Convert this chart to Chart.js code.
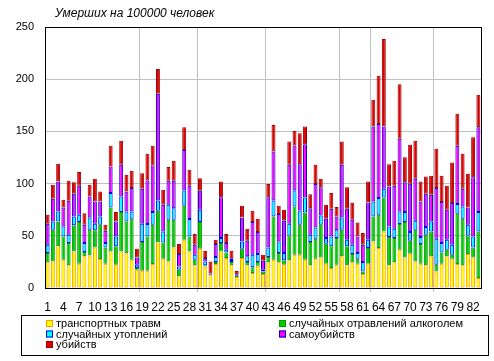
<!DOCTYPE html>
<html>
<head>
<meta charset="utf-8">
<script src="https://cdn.jsdelivr.net/npm/chart.js@4"></script>
<style>
html,body{margin:0;padding:0;background:#fff;}
canvas{display:block;}
</style>
</head>
<body>
<canvas id="c" width="494" height="361"></canvas>
<script>
const titleText = 'Умерших на 100000 человек';
const categories = ['1','2','3','4','5','6','7','8','9','10','11','12','13','14','15','16','17','18','19','20','21','22','23','24','25','26','27','28','29','30','31','32','33','34','35','36','37','38','39','40','41','42','43','44','45','46','47','48','49','50','51','52','53','54','55','56','57','58','59','60','61','62','63','64','65','66','67','68','69','70','71','72','73','74','75','76','77','78','79','80','81','82','83'];
const tickLabels = ['1','4','7','10','13','16','19','22','25','28','31','34','37','40','43','46','49','52','55','58','61','64','67','70','73','76','79','82'];
const yTicks = [0,50,100,150,200,250];
// index of first category after each vertical separator line
const separatorBefore = [18,29,42,56,62,74];

const transport = [24.6,25.5,39.9,27.1,21.7,35,23.3,30.3,31.2,38.9,27.7,23.3,35,22.3,35,33.2,27.1,17.5,16.6,16.6,23,43.7,28,25.5,38.9,11.2,46.2,35,21.7,37.6,20.7,12.1,23,35,28.7,21.7,10.5,28.7,21.7,14.3,21.4,13.4,24.6,27.1,24.6,22.3,26.5,31.9,31.9,27.1,21.7,28,29.3,23.3,19.1,22.3,30.3,21.7,24.6,23.3,13.4,23.3,44.6,38.3,54.2,21.7,24.6,36.7,29.3,32.8,25.5,23.3,21.7,30.3,15.9,23.3,30.3,28,23,21.7,32.5,29.3,9.6];
const alcohol = [8.9,30.3,23.9,22.3,21.3,25,39.8,4.1,24.6,16.3,32.9,15.6,42.2,17.6,37.7,30.6,39.2,1.6,27.4,32.8,37.6,30.3,15.7,39.9,26.5,6.3,32.6,14.4,5.4,25.5,1,0.5,1.9,8,5.4,3.2,1,8.9,3.2,5.5,3.5,2.5,5.1,41.5,8.9,4.2,23.9,46.2,28.7,45.3,22.3,19.2,31.3,19.1,20.8,25.5,25.5,18.2,7.9,4.7,2.5,15,24,31.9,32.5,27.1,23.2,24.5,33.8,12.5,30.3,18.8,29.3,23.9,6.4,10.8,6.4,3.9,48.1,44.6,17.9,9.6,44.6];
const drowning = [8,8,9.5,9.6,8,8.6,7.1,8.6,11.8,6.3,8,4.1,13.7,9.5,15,9.5,7,3.2,17.5,11.8,12.1,9.9,10.5,14.3,11.1,3.2,14.6,16.6,4.8,11.8,3.8,0.8,4.8,4.8,2.6,2,0.6,7,5.4,12.1,7.6,1.6,9.2,15.3,11.1,7,11.1,15.3,13.7,14.3,7,10.8,8.9,5.4,9.5,7.4,11.8,6.3,9,5.5,9,7.9,14.3,15.9,8.3,10.2,9,12.1,9.6,8.3,8.6,6.7,7.4,9.6,24.9,8.9,9.5,9.6,9.3,11.8,10.2,10.5,18.5];
const suicide = [20,21.7,28.7,18.2,32.5,21.6,27.7,17.6,20.1,21.4,14.3,11.8,25.5,14.4,30.3,19.2,22.4,7,33.5,41.8,44.6,102.1,25.5,23,26.2,11.8,38.9,31.9,9.6,18.2,3.2,0.5,12.4,39.2,6.3,1.5,1,23,15,31.2,21.1,8.6,48.1,46.8,26.2,30.9,56.5,43.1,44.3,51.1,25.5,41.5,27.1,18.5,26.5,13.4,50.4,29.7,23.9,15.9,16.6,35.8,71.8,71.1,59.7,38.3,41.1,69.6,28.7,46.2,40.2,34.1,31.8,25.5,48.5,39.3,28.7,39.8,55.8,16.9,16.6,56.8,81.3];
const homicide = [8.7,13.4,17,7.3,19.2,11.2,13.1,11.1,11.2,21.7,9.6,5.8,19.8,8.9,23,15.9,16.5,8.3,15,25.5,18.9,23.8,14.3,13.1,19.1,9.6,21.7,15.3,10.2,12.1,7,11.5,4.1,15,8.7,7.3,3.2,11.2,11.5,10.9,12.7,5.8,12.5,25.5,8,10.5,22.3,14,29.7,16.9,13.4,18.5,8,13.4,15,8.9,22.3,20.7,16.6,13.4,11.1,20,25.5,46.2,83.8,21.3,23.9,52.3,23.9,37.3,36.4,19.1,16.6,18.2,37.6,25.2,23,38.9,30.6,33.5,32.2,38.3,31];

const seriesNames = ['транспортных травм','случайных отравлений алкоголем','случайных утоплений','самоубийств','убийств'];
const seriesFill = ['#FFFF00','#00CC00','#00FFFF','#FF00FF','#DD0000'];
const seriesEdge = ['#FF9900','#009900','#0000FF','#0000CC','#A00000'];
const seriesData = [transport, alcohol, drowning, suicide, homicide];

const FONT = '"Liberation Sans", Arial, sans-serif';

const decor = {
  id: 'decor',
  afterDraw(chart) {
    const ctx = chart.ctx;
    const a = chart.chartArea;
    ctx.save();
    // frame
    ctx.strokeStyle = '#000';
    ctx.lineWidth = 1;
    ctx.strokeRect(Math.round(a.left) + 0.5, Math.round(a.top) + 0.5, Math.round(a.right - a.left), Math.round(a.bottom - a.top));
    // title
    ctx.fillStyle = '#000';
    ctx.font = 'italic 12px ' + FONT;
    ctx.textBaseline = 'alphabetic';
    ctx.textAlign = 'left';
    ctx.fillText(titleText, a.left + 10, 17);
    // legend
    const bx = 21.5, by = 315.5, bw = 467, bh = 40;
    ctx.fillStyle = '#fff';
    ctx.fillRect(bx, by, bw, bh);
    ctx.strokeStyle = '#000';
    ctx.strokeRect(bx, by, bw, bh);
    ctx.font = '11px ' + FONT;
    ctx.textBaseline = 'middle';
    const colX = [46, 279];
    const rowY = [323, 333.5, 344];
    chart.data.datasets.forEach((ds, i) => {
      const col = i % 2, row = Math.floor(i / 2);
      const x = colX[col], y = rowY[row];
      ctx.fillStyle = ds.backgroundColor;
      ctx.fillRect(x, y - 3, 7, 7);
      ctx.strokeStyle = ds.borderColor;
      ctx.strokeRect(x + 0.5, y - 2.5, 6, 6);
      ctx.fillStyle = '#000';
      ctx.fillText(ds.label, x + 10, y + 1);
    });
    ctx.restore();
  }
};

new Chart(document.getElementById('c'), {
  type: 'bar',
  data: {
    labels: categories,
    datasets: seriesData.map((d, i) => ({
      label: seriesNames[i],
      data: d,
      backgroundColor: seriesFill[i],
      borderColor: seriesEdge[i],
      borderWidth: 1,
      borderSkipped: false,
      barPercentage: 0.75,
      categoryPercentage: 1
    }))
  },
  options: {
    responsive: false,
    animation: false,
    devicePixelRatio: 1,
    layout: { padding: { left: 0, right: 13, top: 27, bottom: 45 } },
    plugins: { legend: { display: false }, title: { display: false }, tooltip: { enabled: false } },
    scales: {
      x: {
        stacked: true,
        afterFit(s) { s.height = 28; },
        grid: {
          offset: true,
          drawOnChartArea: true,
          tickLength: 4,
          color: (c) => (c.index !== undefined && separatorBefore.includes(c.index)) ? '#C0C0C0' : 'rgba(0,0,0,0)'
        },
        border: { display: true, color: '#000', width: 1 },
        ticks: {
          autoSkip: false,
          maxRotation: 0,
          minRotation: 0,
          padding: 8,
          color: '#000',
          font: { family: FONT, size: 12 },
          callback: (v, i) => tickLabels.includes(categories[i]) ? categories[i] : ''
        }
      },
      y: {
        stacked: true,
        min: yTicks[0],
        max: yTicks[yTicks.length - 1],
        afterFit(s) { s.width = 45; },
        afterBuildTicks(s) { s.ticks = yTicks.map(v => ({ value: v })); },
        grid: { color: '#C0C0C0', drawTicks: false },
        border: { display: true, color: '#000', width: 1 },
        ticks: {
          padding: 11,
          color: '#000',
          font: { family: FONT, size: 11 }
        }
      }
    }
  },
  plugins: [decor]
});
</script>
</body>
</html>
